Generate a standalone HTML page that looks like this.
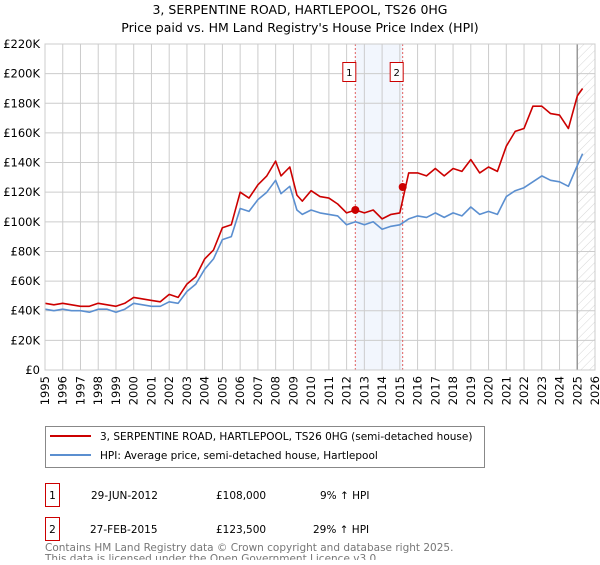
<!DOCTYPE html>
<html><head><meta charset="utf-8"><style>
body{margin:0;background:#fff;font-family:"Liberation Sans","DejaVu Sans",sans-serif;}
svg text{font-family:"DejaVu Sans","Liberation Sans",sans-serif;}
</style></head><body>
<svg id="chart" width="600" height="560" xmlns="http://www.w3.org/2000/svg">
<text x="300" y="14" text-anchor="middle" font-size="12.5" fill="#000">3, SERPENTINE ROAD, HARTLEPOOL, TS26 0HG</text>
<text x="300" y="32" text-anchor="middle" font-size="12.5" fill="#000">Price paid vs. HM Land Registry's House Price Index (HPI)</text>
<defs><pattern id="hatch" width="6" height="6" patternUnits="userSpaceOnUse" patternTransform="rotate(45)"><line x1="0" y1="0" x2="0" y2="6" stroke="#cccccc" stroke-width="0.8"/></pattern></defs>
<g id="grid"></g>
<g id="series"></g>
<g id="axes"></g>
<g>
<rect x="45.5" y="426.5" width="439" height="41" fill="#fff" stroke="#888"/>
<line x1="50" y1="436" x2="91" y2="436" stroke="#cc0000" stroke-width="2"/>
<text x="100" y="440" font-size="10.5">3, SERPENTINE ROAD, HARTLEPOOL, TS26 0HG (semi-detached house)</text>
<line x1="50" y1="455" x2="91" y2="455" stroke="#5b8fd0" stroke-width="2"/>
<text x="100" y="459" font-size="10.5">HPI: Average price, semi-detached house, Hartlepool</text>
</g>
<g font-size="10.5">
<rect x="45.5" y="483.5" width="14" height="23" fill="#fff" stroke="#cc0000"/>
<text x="52.5" y="499" text-anchor="middle">1</text>
<text x="91" y="499">29-JUN-2012</text>
<text x="216" y="499">£108,000</text>
<text x="320" y="499">9% ↑ HPI</text>
<rect x="45.5" y="517.5" width="14" height="23" fill="#fff" stroke="#cc0000"/>
<text x="52.5" y="533" text-anchor="middle">2</text>
<text x="90" y="533">27-FEB-2015</text>
<text x="216" y="533">£123,500</text>
<text x="313" y="533">29% ↑ HPI</text>
</g>
<text x="45" y="551" font-size="10.5" fill="#777">Contains HM Land Registry data © Crown copyright and database right 2025.</text>
<text x="45" y="562" font-size="10.5" fill="#777">This data is licensed under the Open Government Licence v3.0.</text>
</svg>
<script>
const times=[1995,1995.5,1996,1996.5,1997,1997.5,1998,1998.5,1999,1999.5,2000,2000.5,2001,2001.5,2002,2002.5,2003,2003.5,2004,2004.5,2005,2005.5,2006,2006.5,2007,2007.5,2008,2008.3,2008.8,2009.2,2009.5,2010,2010.5,2011,2011.5,2012,2012.5,2013,2013.5,2014,2014.5,2015,2015.5,2016,2016.5,2017,2017.5,2018,2018.5,2019,2019.5,2020,2020.5,2021,2021.5,2022,2022.5,2023,2023.5,2024,2024.5,2025,2025.3];
const hpiValues=[41,40,41,40,40,39,41,41,39,41,45,44,43,43,46,45,53,58,68,75,88,90,109,107,115,120,128,119,124,108,105,108,106,105,104,98,100,98,100,95,97,98,102,104,103,106,103,106,104,110,105,107,105,117,121,123,127,131,128,127,124,138,146];
const priceValues=[45,44,45,44,43,43,45,44,43,45,49,48,47,46,51,49,58,63,75,81,96,98,120,116,125,131,141,131,137,118,114,121,117,116,112,106,108,106,108,102,105,106,133,133,131,136,131,136,134,142,133,137,134,151,161,163,178,178,173,172,163,185,190];
const saleTimes=[2012.49,2015.16];
const saleValues=[108,123.5];
const saleLabels=["1","2"];
const yTicks=[0,20,40,60,80,100,120,140,160,180,200,220];
const xTicks=[1995,1996,1997,1998,1999,2000,2001,2002,2003,2004,2005,2006,2007,2008,2009,2010,2011,2012,2013,2014,2015,2016,2017,2018,2019,2020,2021,2022,2023,2024,2025,2026];
const X0=45,X1=595,Y0=370,Y1=44;
const xs=t=>X0+(t-1995)/(2026-1995)*(X1-X0);
const ys=v=>Y0-v/220*(Y0-Y1);
const NS="http://www.w3.org/2000/svg";
function mk(tag,attrs,parent){const e=document.createElementNS(NS,tag);for(const k in attrs)e.setAttribute(k,attrs[k]);parent.appendChild(e);return e;}
const grid=document.getElementById('grid'),series=document.getElementById('series'),axes=document.getElementById('axes');
const band=mk('rect',{x:xs(saleTimes[0]),y:Y1,width:xs(saleTimes[1])-xs(saleTimes[0]),height:Y0-Y1,fill:'#f2f6fd'},grid);


const hatch=mk('rect',{x:xs(2025),y:Y1,width:X1-xs(2025),height:Y0-Y1,fill:'url(#hatch)'},grid);


yTicks.forEach(v=>{
  const l=mk('line',{x1:X0,x2:X1,y1:ys(v),y2:ys(v),stroke:'#cccccc'},grid);
  
  
  const t=mk('text',{x:X0-5,y:ys(v)+4,'text-anchor':'end','font-size':'11.5'},axes);
  t.textContent=v===0?'£0':'£'+v+'K';
  
  
});
xTicks.forEach(y=>{
  const l=mk('line',{x1:xs(y),x2:xs(y),y1:Y1,y2:Y0,stroke:'#cccccc'},grid);
  
  
  const t=mk('text',{x:0,y:0,'text-anchor':'end','font-size':'11.5',transform:`translate(${xs(y)+4},${Y0+6}) rotate(-90)`},axes);
  t.textContent=y;
  
  
});
const endLine=mk('line',{x1:xs(2025),x2:xs(2025),y1:Y1,y2:Y0,stroke:'#999','stroke-width':1.5},grid);


saleTimes.forEach(t=>{
  const l=mk('line',{x1:xs(t),x2:xs(t),y1:Y1,y2:Y0,stroke:'#e06060','stroke-dasharray':'2,2'},grid);
  
  
});
function path(vals,color,name){
  const d=times.map((t,i)=>(i?'L':'M')+xs(t).toFixed(1)+','+ys(vals[i]).toFixed(1)).join('');
  const p=mk('path',{d:d,fill:'none',stroke:color,'stroke-width':1.6,'stroke-linejoin':'round'},series);
  
  
}
path(hpiValues,'#5b8fd0','hpi-line');
path(priceValues,'#cc0000','price-line');
saleTimes.forEach((t,i)=>{
  const c=mk('circle',{cx:xs(t),cy:ys(saleValues[i]),r:4,fill:'#cc0000'},series);
  
  
  const g=mk('g',{},series);
  
  
  mk('rect',{x:xs(t)-12.5,y:62.5,width:13,height:19,fill:'#fff',stroke:'#cc0000'},g);
  const tx=mk('text',{x:xs(t)-6,y:76,'text-anchor':'middle','font-size':'10'},g);
  tx.textContent=saleLabels[i];
});
const frame=mk('rect',{x:X0,y:Y1,width:X1-X0,height:Y0-Y1,fill:'none',stroke:'#cccccc'},axes);


</script>
</body></html>
